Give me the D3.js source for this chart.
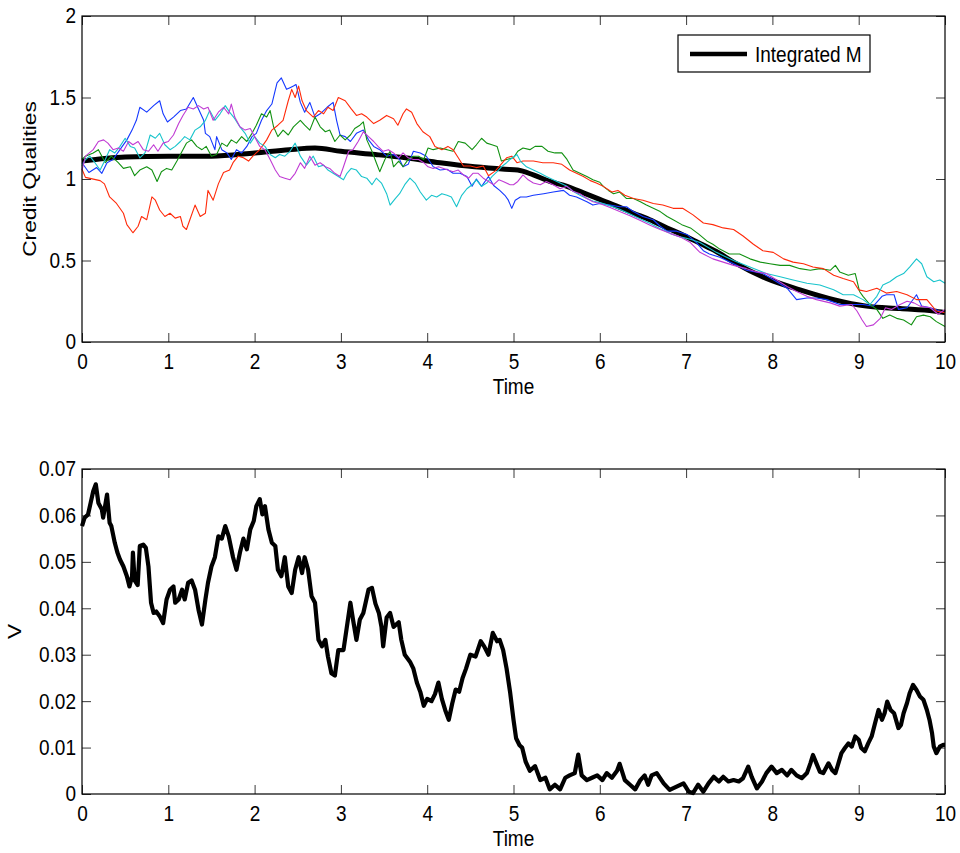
<!DOCTYPE html>
<html>
<head>
<meta charset="utf-8">
<script src="https://cdn.jsdelivr.net/npm/d3@7"></script>
<style>
  html, body { margin: 0; padding: 0; background: #fff; }
  svg text { font-family: "Liberation Sans", Arial, Helvetica, sans-serif; font-size: 19px; fill: #000; }
</style>
</head>
<body>
<svg id="chart" width="960" height="853"></svg>
<script>
// ---------------- DATA ----------------
const xTicks = [0, 1, 2, 3, 4, 5, 6, 7, 8, 9, 10];
const topYTicks = [0, 0.5, 1, 1.5, 2];
const bottomYTicks = [0, 0.01, 0.02, 0.03, 0.04, 0.05, 0.06, 0.07];
const topYLabel = "Credit Qualities";
const bottomYLabel = "V";
const xLabel = "Time";
const legendLabel = "Integrated M";

// Integrated M (smooth black curve) [time, value]
const integratedM = [[0,1.11],[0.5,1.135],[1.0,1.14],[1.5,1.14],[2.0,1.16],[2.4,1.18],[2.7,1.19],[3.0,1.17],[3.4,1.15],[3.75,1.13],[4.15,1.10],[4.55,1.075],[4.9,1.06],[5.05,1.055],[5.23,1.025],[5.42,0.985],[5.62,0.955],[5.81,0.915],[6.0,0.875],[6.19,0.835],[6.39,0.79],[6.58,0.75],[6.78,0.70],[6.97,0.655],[7.16,0.605],[7.35,0.555],[7.55,0.49],[7.93,0.39],[8.32,0.32],[8.71,0.26],[9.09,0.22],[9.48,0.205],[9.87,0.19],[10,0.18]];

const blueSeries = [[0,1.10],[0.08,1.04],[0.17,1.07],[0.23,1.035],[0.29,1.10],[0.36,1.12],[0.44,1.18],[0.52,1.24],[0.58,1.30],[0.63,1.36],[0.67,1.44],[0.75,1.41],[0.83,1.45],[0.90,1.48],[0.94,1.40],[0.99,1.35],[1.06,1.38],[1.14,1.42],[1.21,1.43],[1.29,1.50],[1.35,1.43],[1.41,1.36],[1.43,1.28],[1.48,1.26],[1.54,1.18],[1.56,1.26],[1.62,1.18],[1.68,1.16],[1.73,1.12],[1.79,1.18],[1.85,1.16],[1.91,1.20],[1.97,1.26],[2.02,1.28],[2.08,1.36],[2.14,1.42],[2.20,1.46],[2.26,1.59],[2.31,1.62],[2.37,1.55],[2.41,1.56],[2.45,1.57],[2.48,1.58],[2.53,1.47],[2.58,1.41],[2.64,1.47],[2.70,1.38],[2.76,1.40],[2.84,1.44],[2.91,1.47],[2.95,1.36],[2.99,1.27],[3.05,1.26],[3.11,1.23],[3.18,1.28],[3.26,1.30],[3.32,1.24],[3.38,1.20],[3.45,1.18],[3.53,1.14],[3.61,1.15],[3.68,1.12],[3.72,1.075],[3.78,1.09],[3.84,1.17],[3.92,1.16],[3.99,1.14],[4.07,1.075],[4.15,1.055],[4.23,1.06],[4.30,1.035],[4.38,1.035],[4.46,1.015],[4.52,0.955],[4.57,1.00],[4.63,0.955],[4.71,1.015],[4.77,0.96],[4.84,0.93],[4.90,0.90],[4.94,0.87],[4.98,0.82],[5.02,0.87],[5.08,0.89],[5.15,0.89],[5.23,0.90],[5.35,0.91],[5.46,0.92],[5.58,0.93],[5.65,0.90],[5.73,0.89],[5.85,0.86],[5.92,0.84],[6.00,0.85],[6.12,0.84],[6.23,0.83],[6.31,0.83],[6.39,0.80],[6.50,0.77],[6.62,0.75],[6.70,0.71],[6.78,0.68],[6.89,0.68],[7.01,0.66],[7.12,0.61],[7.20,0.56],[7.27,0.54],[7.39,0.52],[7.55,0.48],[7.70,0.44],[7.89,0.42],[8.05,0.37],[8.17,0.33],[8.28,0.26],[8.40,0.27],[8.51,0.27],[8.63,0.26],[8.78,0.23],[8.94,0.23],[9.05,0.23],[9.17,0.22],[9.27,0.28],[9.32,0.29],[9.41,0.29],[9.46,0.20],[9.56,0.21],[9.67,0.29],[9.73,0.22],[9.83,0.21],[9.94,0.19],[10,0.18]];

const greenSeries = [[0,1.12],[0.04,1.14],[0.13,1.16],[0.19,1.18],[0.27,1.10],[0.34,1.14],[0.42,1.10],[0.48,1.065],[0.56,1.075],[0.61,1.02],[0.67,1.055],[0.75,1.075],[0.81,1.055],[0.87,0.985],[0.92,1.045],[0.98,1.065],[1.04,1.055],[1.10,1.11],[1.16,1.17],[1.21,1.22],[1.27,1.24],[1.33,1.20],[1.39,1.18],[1.44,1.20],[1.50,1.14],[1.56,1.15],[1.62,1.22],[1.68,1.20],[1.73,1.24],[1.79,1.22],[1.85,1.26],[1.91,1.23],[1.97,1.28],[2.02,1.33],[2.08,1.40],[2.14,1.38],[2.18,1.42],[2.22,1.32],[2.27,1.26],[2.33,1.30],[2.39,1.27],[2.45,1.32],[2.53,1.36],[2.58,1.33],[2.64,1.30],[2.70,1.38],[2.76,1.32],[2.82,1.29],[2.87,1.30],[2.93,1.23],[2.99,1.27],[3.05,1.24],[3.11,1.27],[3.16,1.31],[3.22,1.33],[3.26,1.35],[3.30,1.24],[3.36,1.17],[3.41,1.10],[3.45,1.045],[3.51,1.12],[3.57,1.17],[3.61,1.075],[3.67,1.11],[3.72,1.075],[3.78,1.12],[3.84,1.14],[3.90,1.14],[3.96,1.12],[4.01,1.19],[4.07,1.18],[4.15,1.19],[4.23,1.18],[4.30,1.17],[4.36,1.23],[4.44,1.22],[4.52,1.18],[4.57,1.21],[4.63,1.25],[4.69,1.22],[4.75,1.21],[4.81,1.20],[4.86,1.11],[4.92,1.12],[5.00,1.13],[5.05,1.17],[5.11,1.19],[5.19,1.18],[5.25,1.20],[5.33,1.20],[5.40,1.17],[5.48,1.16],[5.56,1.16],[5.62,1.12],[5.69,1.055],[5.77,1.035],[5.85,1.015],[5.92,0.995],[6.00,0.98],[6.04,0.955],[6.10,0.93],[6.16,0.91],[6.23,0.92],[6.31,0.88],[6.39,0.88],[6.47,0.86],[6.54,0.84],[6.62,0.82],[6.70,0.80],[6.78,0.77],[6.85,0.75],[6.95,0.72],[7.05,0.70],[7.15,0.66],[7.24,0.62],[7.31,0.60],[7.39,0.57],[7.50,0.54],[7.62,0.54],[7.74,0.51],[7.86,0.49],[7.97,0.48],[8.09,0.47],[8.20,0.47],[8.32,0.45],[8.44,0.44],[8.55,0.45],[8.67,0.44],[8.73,0.47],[8.78,0.43],[8.88,0.41],[8.96,0.42],[9.01,0.31],[9.05,0.28],[9.13,0.23],[9.21,0.20],[9.28,0.145],[9.36,0.165],[9.44,0.145],[9.52,0.135],[9.61,0.105],[9.67,0.155],[9.75,0.165],[9.83,0.155],[9.90,0.125],[10,0.095]];

const redSeries = [[0,1.06],[0.04,1.01],[0.21,0.99],[0.26,0.97],[0.32,0.89],[0.40,0.85],[0.48,0.79],[0.52,0.72],[0.59,0.67],[0.65,0.71],[0.69,0.77],[0.75,0.75],[0.81,0.89],[0.85,0.87],[0.90,0.81],[0.96,0.77],[1.02,0.79],[1.08,0.76],[1.14,0.77],[1.17,0.71],[1.21,0.69],[1.25,0.75],[1.31,0.84],[1.37,0.77],[1.43,0.79],[1.46,0.93],[1.52,0.87],[1.58,0.97],[1.64,1.04],[1.71,1.055],[1.75,1.10],[1.81,1.14],[1.87,1.13],[1.93,1.11],[1.98,1.14],[2.06,1.18],[2.14,1.24],[2.20,1.30],[2.27,1.33],[2.33,1.36],[2.39,1.48],[2.43,1.55],[2.47,1.50],[2.51,1.57],[2.55,1.48],[2.60,1.42],[2.68,1.38],[2.74,1.42],[2.80,1.40],[2.85,1.44],[2.91,1.42],[2.97,1.50],[3.05,1.48],[3.12,1.43],[3.18,1.39],[3.24,1.40],[3.30,1.38],[3.38,1.34],[3.45,1.36],[3.53,1.39],[3.61,1.37],[3.66,1.33],[3.72,1.40],[3.76,1.43],[3.82,1.41],[3.88,1.34],[3.95,1.29],[4.03,1.26],[4.09,1.20],[4.17,1.18],[4.24,1.20],[4.30,1.18],[4.36,1.13],[4.42,1.08],[4.50,1.08],[4.57,1.07],[4.65,1.08],[4.71,1.02],[4.79,1.05],[4.84,1.08],[4.92,1.13],[4.98,1.14],[5.04,1.10],[5.11,1.11],[5.23,1.11],[5.34,1.10],[5.46,1.10],[5.56,1.09],[5.65,1.055],[5.73,1.035],[5.81,1.015],[5.89,0.99],[5.96,0.975],[6.04,0.955],[6.14,0.92],[6.21,0.93],[6.29,0.90],[6.39,0.88],[6.50,0.87],[6.62,0.85],[6.73,0.84],[6.85,0.82],[6.96,0.82],[7.08,0.78],[7.20,0.73],[7.31,0.72],[7.43,0.70],[7.55,0.69],[7.66,0.65],[7.78,0.60],[7.89,0.56],[8.01,0.55],[8.13,0.51],[8.24,0.49],[8.36,0.48],[8.47,0.46],[8.59,0.45],[8.71,0.41],[8.82,0.39],[8.94,0.37],[9.00,0.32],[9.09,0.31],[9.21,0.33],[9.32,0.30],[9.44,0.31],[9.56,0.29],[9.67,0.26],[9.79,0.26],[9.90,0.19],[10,0.18]];

const cyanSeries = [[0,1.08],[0.04,1.12],[0.09,1.14],[0.15,1.10],[0.21,1.055],[0.27,1.12],[0.32,1.18],[0.38,1.16],[0.44,1.20],[0.50,1.25],[0.56,1.20],[0.61,1.19],[0.67,1.13],[0.73,1.16],[0.79,1.27],[0.85,1.25],[0.90,1.28],[0.96,1.21],[1.02,1.18],[1.08,1.20],[1.14,1.23],[1.19,1.26],[1.25,1.24],[1.31,1.30],[1.37,1.32],[1.43,1.36],[1.48,1.42],[1.54,1.36],[1.60,1.40],[1.66,1.45],[1.71,1.41],[1.77,1.37],[1.83,1.32],[1.89,1.28],[1.95,1.22],[2.00,1.26],[2.06,1.22],[2.12,1.20],[2.18,1.15],[2.24,1.13],[2.29,1.15],[2.35,1.14],[2.41,1.17],[2.47,1.22],[2.53,1.14],[2.60,1.085],[2.68,1.14],[2.74,1.075],[2.80,1.085],[2.85,1.055],[2.91,1.035],[2.97,1.015],[3.03,0.995],[3.07,1.035],[3.12,1.065],[3.18,1.055],[3.24,1.015],[3.30,1.005],[3.36,0.965],[3.41,1.005],[3.47,0.975],[3.53,0.91],[3.57,0.84],[3.63,0.88],[3.68,0.91],[3.74,0.965],[3.80,1.005],[3.86,0.975],[3.92,0.92],[3.99,0.87],[4.05,0.90],[4.11,0.89],[4.17,0.91],[4.23,0.90],[4.28,0.89],[4.34,0.83],[4.40,0.90],[4.46,0.94],[4.52,0.965],[4.57,0.995],[4.63,0.955],[4.69,0.975],[4.75,1.015],[4.81,1.045],[4.86,1.075],[4.92,1.10],[4.96,1.12],[5.04,1.15],[5.08,1.11],[5.15,1.075],[5.23,1.055],[5.31,1.035],[5.38,1.015],[5.46,0.995],[5.54,0.975],[5.62,0.955],[5.69,0.925],[5.77,0.90],[5.85,0.88],[5.92,0.865],[6.00,0.855],[6.12,0.835],[6.23,0.815],[6.35,0.785],[6.47,0.755],[6.59,0.725],[6.70,0.695],[6.82,0.665],[6.93,0.645],[7.05,0.63],[7.16,0.61],[7.35,0.55],[7.55,0.50],[7.74,0.46],[7.93,0.42],[8.09,0.40],[8.24,0.38],[8.40,0.36],[8.55,0.35],[8.71,0.32],[8.82,0.29],[8.94,0.29],[9.05,0.26],[9.13,0.23],[9.21,0.28],[9.28,0.35],[9.36,0.37],[9.44,0.40],[9.52,0.42],[9.59,0.46],[9.67,0.51],[9.73,0.48],[9.79,0.40],[9.87,0.37],[9.94,0.38],[10,0.36]];

const magentaSeries = [[0,1.055],[0.04,1.14],[0.13,1.18],[0.19,1.23],[0.25,1.24],[0.30,1.22],[0.36,1.18],[0.42,1.19],[0.48,1.17],[0.54,1.23],[0.59,1.21],[0.65,1.23],[0.71,1.18],[0.77,1.17],[0.83,1.21],[0.88,1.17],[0.94,1.22],[1.00,1.23],[1.06,1.27],[1.12,1.34],[1.17,1.39],[1.23,1.44],[1.29,1.43],[1.35,1.45],[1.41,1.43],[1.46,1.44],[1.52,1.36],[1.58,1.41],[1.64,1.44],[1.70,1.40],[1.73,1.46],[1.77,1.38],[1.83,1.32],[1.89,1.30],[1.95,1.31],[2.00,1.26],[2.06,1.20],[2.12,1.18],[2.18,1.12],[2.24,1.055],[2.29,1.015],[2.35,1.005],[2.41,0.995],[2.47,1.035],[2.53,1.10],[2.58,1.065],[2.64,1.14],[2.70,1.085],[2.76,1.10],[2.82,1.075],[2.87,1.065],[2.93,1.035],[2.99,1.015],[3.03,1.075],[3.09,1.17],[3.14,1.18],[3.20,1.23],[3.26,1.29],[3.32,1.26],[3.38,1.23],[3.43,1.20],[3.49,1.17],[3.55,1.18],[3.61,1.16],[3.67,1.13],[3.72,1.16],[3.78,1.13],[3.84,1.12],[3.90,1.12],[3.96,1.10],[4.01,1.075],[4.07,1.065],[4.13,1.075],[4.19,1.065],[4.24,1.055],[4.30,1.045],[4.36,1.055],[4.42,1.025],[4.48,1.005],[4.53,1.035],[4.59,1.035],[4.65,1.005],[4.71,0.985],[4.77,0.965],[4.83,0.995],[4.88,0.985],[4.96,0.965],[5.00,0.965],[5.05,0.985],[5.11,1.025],[5.17,0.995],[5.23,0.975],[5.31,0.965],[5.38,0.985],[5.46,0.965],[5.54,0.94],[5.62,0.955],[5.69,0.925],[5.77,0.91],[5.85,0.88],[5.92,0.86],[6.00,0.85],[6.12,0.825],[6.23,0.80],[6.35,0.775],[6.47,0.745],[6.59,0.715],[6.70,0.69],[6.82,0.665],[6.93,0.645],[7.05,0.61],[7.16,0.55],[7.31,0.51],[7.43,0.49],[7.55,0.47],[7.70,0.45],[7.82,0.43],[7.93,0.42],[8.05,0.38],[8.17,0.34],[8.28,0.31],[8.40,0.28],[8.51,0.26],[8.67,0.24],[8.78,0.22],[8.92,0.23],[8.98,0.19],[9.04,0.135],[9.09,0.095],[9.17,0.105],[9.25,0.145],[9.31,0.21],[9.38,0.20],[9.48,0.23],[9.56,0.25],[9.64,0.24],[9.71,0.22],[9.83,0.21],[9.92,0.17],[10,0.20]];

const seriesColors = ["#1438ff", "#119111", "#ff2a0a", "#18c4cc", "#c03cd4"];

// V process (bottom panel) [time, value]
const vSeries = [[0,0.0577],[0.03,0.0595],[0.07,0.0602],[0.10,0.0627],[0.13,0.0652],[0.16,0.0667],[0.19,0.0627],[0.23,0.0613],[0.245,0.0595],[0.29,0.0645],[0.32,0.0584],[0.34,0.0577],[0.38,0.0541],[0.41,0.052],[0.44,0.0505],[0.48,0.049],[0.52,0.0469],[0.55,0.0447],[0.58,0.0469],[0.59,0.052],[0.61,0.046],[0.645,0.045],[0.67,0.0534],[0.71,0.0537],[0.74,0.053],[0.77,0.049],[0.80,0.0412],[0.83,0.039],[0.86,0.0393],[0.90,0.0383],[0.94,0.0368],[0.98,0.0419],[1.02,0.044],[1.06,0.0447],[1.08,0.0412],[1.12,0.0419],[1.16,0.044],[1.19,0.0419],[1.23,0.0455],[1.27,0.046],[1.31,0.044],[1.35,0.0397],[1.39,0.0365],[1.43,0.0419],[1.46,0.0455],[1.50,0.049],[1.54,0.051],[1.58,0.0555],[1.62,0.055],[1.66,0.0577],[1.70,0.0555],[1.75,0.051],[1.79,0.0483],[1.83,0.052],[1.87,0.055],[1.91,0.0527],[1.95,0.057],[1.99,0.0588],[2.02,0.062],[2.06,0.0635],[2.09,0.0602],[2.12,0.062],[2.16,0.057],[2.20,0.0541],[2.24,0.0534],[2.27,0.0483],[2.31,0.0469],[2.35,0.051],[2.39,0.0447],[2.43,0.0433],[2.47,0.0483],[2.51,0.051],[2.55,0.0476],[2.58,0.051],[2.62,0.0483],[2.66,0.0426],[2.70,0.0412],[2.74,0.0332],[2.78,0.0318],[2.82,0.0332],[2.85,0.0296],[2.89,0.026],[2.93,0.0255],[2.97,0.031],[3.03,0.031],[3.11,0.0412],[3.14,0.0376],[3.18,0.0332],[3.22,0.0376],[3.26,0.039],[3.32,0.044],[3.36,0.0444],[3.40,0.041],[3.44,0.039],[3.47,0.036],[3.49,0.0318],[3.53,0.038],[3.57,0.039],[3.61,0.036],[3.67,0.037],[3.70,0.0332],[3.74,0.030],[3.80,0.0285],[3.84,0.027],[3.88,0.024],[3.92,0.022],[3.96,0.019],[4.00,0.0205],[4.05,0.020],[4.09,0.0215],[4.13,0.024],[4.17,0.0205],[4.21,0.018],[4.25,0.016],[4.29,0.0195],[4.33,0.0225],[4.37,0.022],[4.41,0.025],[4.45,0.027],[4.50,0.030],[4.56,0.0296],[4.62,0.0329],[4.66,0.0318],[4.71,0.030],[4.76,0.0347],[4.81,0.0329],[4.84,0.0332],[4.88,0.031],[4.92,0.027],[4.96,0.022],[5.00,0.016],[5.03,0.012],[5.07,0.0105],[5.10,0.010],[5.14,0.007],[5.19,0.005],[5.25,0.006],[5.31,0.003],[5.37,0.0035],[5.42,0.001],[5.48,0.002],[5.54,0.001],[5.60,0.0035],[5.65,0.004],[5.71,0.0045],[5.75,0.0085],[5.79,0.004],[5.85,0.003],[5.91,0.0035],[5.97,0.004],[6.03,0.003],[6.08,0.0045],[6.14,0.0035],[6.20,0.005],[6.23,0.0065],[6.29,0.003],[6.35,0.002],[6.41,0.001],[6.47,0.003],[6.52,0.004],[6.56,0.002],[6.60,0.004],[6.66,0.0045],[6.74,0.0023],[6.81,0.0009],[6.89,0.0016],[6.97,0.0023],[7.03,0.0005],[7.08,0.0002],[7.14,0.002],[7.20,0.0005],[7.26,0.0023],[7.32,0.0037],[7.38,0.0027],[7.43,0.0037],[7.49,0.0027],[7.55,0.003],[7.61,0.0027],[7.66,0.0034],[7.72,0.0059],[7.76,0.0037],[7.82,0.0012],[7.88,0.0027],[7.93,0.0045],[7.99,0.0059],[8.05,0.0045],[8.11,0.0052],[8.17,0.004],[8.22,0.0052],[8.28,0.004],[8.34,0.0034],[8.40,0.0045],[8.44,0.0066],[8.47,0.0084],[8.51,0.0066],[8.55,0.0048],[8.59,0.0045],[8.65,0.0066],[8.69,0.0052],[8.73,0.0045],[8.76,0.0063],[8.80,0.0088],[8.84,0.0099],[8.88,0.0109],[8.92,0.0102],[8.96,0.0124],[9.00,0.0117],[9.03,0.0099],[9.07,0.0092],[9.11,0.0109],[9.15,0.0124],[9.19,0.0153],[9.23,0.0181],[9.27,0.016],[9.30,0.0174],[9.33,0.0199],[9.37,0.0181],[9.41,0.0174],[9.46,0.0142],[9.49,0.0149],[9.52,0.0174],[9.56,0.0196],[9.59,0.0217],[9.63,0.0235],[9.67,0.0224],[9.71,0.021],[9.75,0.0203],[9.79,0.0181],[9.82,0.016],[9.85,0.0131],[9.87,0.0102],[9.90,0.0088],[9.94,0.0102],[9.98,0.0106],[10,0.0106]];

// ---------------- DRAWING ----------------
const svg = d3.select("#chart");
svg.append("rect").attr("width", 960).attr("height", 853).attr("fill", "#fff");

const X0 = 82, X1 = 945;
const TICK = 9;
const VSTRETCH = 1.13;   // text in the reference is slightly taller than wide
const ROT_STRETCH = 1.2; // rotated labels appear longer along the vertical

function makePanel(top, bottom, yDomain, yTicks, yFmt, yLabel, yLabelX) {
  const x = d3.scaleLinear().domain([0, 10]).range([X0, X1]);
  const y = d3.scaleLinear().domain(yDomain).range([bottom, top]);
  const g = svg.append("g");

  const styleAxis = sel => {
    sel.select(".domain").remove();
    sel.selectAll(".tick line").attr("stroke", "#3a3a3a").attr("stroke-width", 1);
    sel.selectAll(".tick text").attr("font-size", null).attr("font-family", null).attr("fill", "#000");
  };

  const bx = g.append("g").attr("transform", `translate(0,${bottom})`)
    .call(d3.axisBottom(x).tickValues(xTicks).tickSize(-TICK).tickPadding(12).tickFormat(d3.format("d")))
    .call(styleAxis);
  bx.selectAll(".tick text").each(function() {
    const t = d3.select(this);
    const yy = +t.attr("y");
    t.attr("y", 0).attr("transform", `translate(0,${yy}) scale(1,${VSTRETCH})`);
  });
  g.append("g").attr("transform", `translate(0,${top})`)
    .call(d3.axisTop(x).tickValues(xTicks).tickSize(-TICK).tickFormat(""))
    .call(styleAxis);
  const ly = g.append("g").attr("transform", `translate(${X0},0)`)
    .call(d3.axisLeft(y).tickValues(yTicks).tickSize(-TICK).tickPadding(6).tickFormat(yFmt))
    .call(styleAxis);
  ly.selectAll(".tick text").attr("transform", `scale(1,${VSTRETCH})`);
  g.append("g").attr("transform", `translate(${X1},0)`)
    .call(d3.axisRight(y).tickValues(yTicks).tickSize(-TICK).tickFormat(""))
    .call(styleAxis);

  g.append("text").attr("transform", `translate(${(X0 + X1) / 2},${bottom + 52}) scale(1,${VSTRETCH})`)
    .attr("text-anchor", "middle").text(xLabel);
  g.append("text").attr("transform", `translate(${yLabelX},${(top + bottom) / 2}) scale(1,${ROT_STRETCH}) rotate(-90)`)
    .attr("text-anchor", "middle").text(yLabel);

  return { x, y, g, top, bottom };
}

function frame(p) {
  p.g.append("rect").attr("x", X0).attr("y", p.top).attr("width", X1 - X0).attr("height", p.bottom - p.top)
    .attr("fill", "none").attr("stroke", "#000").attr("stroke-width", 1.2);
}

// Top panel
const topP = makePanel(16, 342, [0, 2], topYTicks, d => String(d), topYLabel, 36);
const lineTop = d3.line().x(d => topP.x(d[0])).y(d => topP.y(d[1]));
const smoothTop = d3.line().x(d => topP.x(d[0])).y(d => topP.y(d[1])).curve(d3.curveMonotoneX);

topP.g.append("path").datum(integratedM).attr("d", smoothTop)
  .attr("fill", "none").attr("stroke", "#000").attr("stroke-width", 5).attr("stroke-linejoin", "round");

[blueSeries, greenSeries, redSeries, cyanSeries, magentaSeries].forEach((s, i) => {
  topP.g.append("path").datum(s).attr("d", lineTop)
    .attr("fill", "none").attr("stroke", seriesColors[i]).attr("stroke-width", 1.1).attr("stroke-linejoin", "round");
});
frame(topP);

// Legend
const leg = topP.g.append("g");
leg.append("rect").attr("x", 678).attr("y", 35).attr("width", 192).attr("height", 37)
  .attr("fill", "#fff").attr("stroke", "#000").attr("stroke-width", 1.2);
leg.append("line").attr("x1", 690).attr("x2", 747).attr("y1", 54).attr("y2", 54)
  .attr("stroke", "#000").attr("stroke-width", 4.5);
leg.append("text").attr("transform", `translate(755,61.5) scale(1,${VSTRETCH})`).text(legendLabel);

// Bottom panel
const botP = makePanel(469, 794, [0, 0.07], bottomYTicks, d => d === 0 ? "0" : d3.format(".2f")(d), bottomYLabel, 21);
const lineBot = d3.line().x(d => botP.x(d[0])).y(d => botP.y(d[1]));
botP.g.append("path").datum(vSeries).attr("d", lineBot)
  .attr("fill", "none").attr("stroke", "#000").attr("stroke-width", 4.2).attr("stroke-linejoin", "round");
frame(botP);
</script>
</body>
</html>
